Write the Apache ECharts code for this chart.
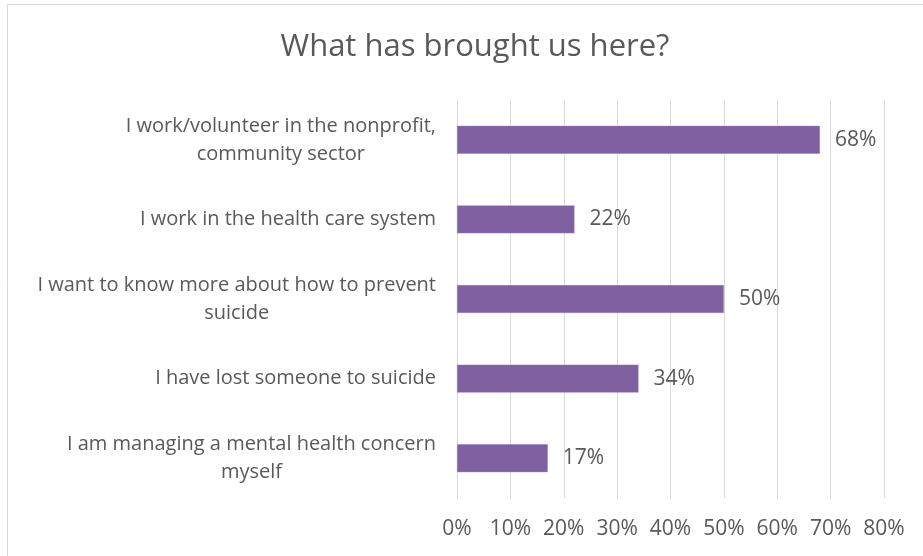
<!DOCTYPE html>
<html>
<head>
<meta charset="utf-8">
<script src="https://cdn.jsdelivr.net/npm/echarts@6/dist/echarts.min.js"></script>
<style>
  html, body { margin: 0; padding: 0; background: #fff; }
  #chart { width: 923px; height: 556px; }
</style>
</head>
<body>
<div id="chart"></div>
<script>
// Survey responses: share of attendees for each reason
const categories = [
  'I work/volunteer in the nonprofit,\ncommunity sector',
  'I work in the health care system',
  'I want to know more about how to prevent\nsuicide',
  'I have lost someone to suicide',
  'I am managing a mental health concern\nmyself'
];
const shares = [68, 22, 50, 34, 17];
const tickStep = 10;
const axisMax = 80;

const FONT = '"Open Sans"';
const TEXT = '#595959';

const chart = echarts.init(document.getElementById('chart'), null, { renderer: 'canvas' });
chart.setOption({
  backgroundColor: '#ffffff',
  animation: false,
  title: {
    text: 'What has brought us here?',
    left: 470,
    textAlign: 'center',
    top: 27,
    textStyle: { fontFamily: FONT, fontSize: 31, fontWeight: 'normal', color: TEXT }
  },
  graphic: [{
    type: 'rect',
    shape: { x: 7.5, y: 4.5, width: 1000, height: 1000 },
    style: { fill: 'none', stroke: '#d9d9d9', lineWidth: 1 },
    silent: true
  }],
  grid: { left: 457, right: 39, top: 100, bottom: 58, containLabel: false },
  xAxis: {
    type: 'value',
    min: 0,
    max: axisMax,
    interval: tickStep,
    axisLine: { show: false },
    axisTick: { show: false },
    splitLine: { show: true, lineStyle: { color: '#d9d9d9', width: 1 } },
    axisLabel: {
      formatter: '{value}%',
      margin: 21,
      fontFamily: FONT, fontSize: 21, color: TEXT
    }
  },
  yAxis: {
    type: 'category',
    inverse: true,
    data: categories,
    axisLine: { show: false },
    axisTick: { show: false },
    axisLabel: {
      margin: 21,
      align: 'right',
      // wrapped lines are centred within their block
      formatter: v => v.split('\n').map(s => '{c|' + s + '}').join('\n'),
      rich: {
        c: { align: 'center', lineHeight: 28, fontFamily: FONT, fontSize: 20, color: TEXT }
      }
    }
  },
  series: [{
    type: 'bar',
    data: shares,
    barWidth: '35%',
    itemStyle: { color: '#7f60a0', borderColor: '#9a7fbb', borderWidth: 0.5 },
    label: {
      show: true,
      position: 'right',
      distance: 15,
      formatter: '{c}%',
      fontFamily: FONT, fontSize: 21, color: TEXT
    }
  }]
});
</script>
</body>
</html>
